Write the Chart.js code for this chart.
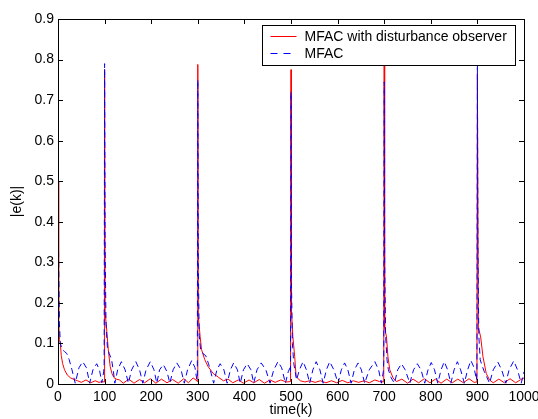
<!DOCTYPE html>
<html>
<head>
<meta charset="utf-8">
<script src="https://cdn.jsdelivr.net/npm/chart.js@4/dist/chart.umd.min.js"></script>
<style>
  body { margin: 0; background: #fff; }
  canvas { display: block; }
</style>
</head>
<body>
<canvas id="chart" width="538" height="419"></canvas>
<script>
// series (k, |e(k)|)
const seriesLabels = ['MFAC with disturbance observer', 'MFAC'];
const seriesColors = ['#ff0000', '#0000ff'];

const redK = [0, 1, 2, 3, 5, 7, 10, 14, 20, 27, 35, 42, 50, 60, 70, 80, 88, 94, 99,
  100, 101, 104, 108, 112, 116, 120, 125, 132, 140, 152, 163, 175, 186, 198, 210, 222, 234, 246, 258, 270, 280, 290, 298, 299,
  300, 301, 305, 308, 315, 322, 333, 345, 355, 365, 375, 387, 398, 410, 420, 432, 443, 455, 466, 478, 490, 499,
  500, 501, 504, 508, 511, 520, 530, 540, 552, 563, 575, 587, 598, 610, 622, 634, 645, 657, 668, 680, 690, 699,
  700, 701, 705, 708, 712, 719, 726, 738, 750, 762, 774, 786, 798, 810, 822, 834, 846, 858, 870, 882, 893, 899,
  900, 902, 907, 912, 919, 926, 934, 946, 958, 970, 982, 992, 1000];
const redE = [0.50, 0.30, 0.16, 0.11, 0.10, 0.07, 0.05, 0.035, 0.022, 0.015, 0.011, 0.008, 0.004, 0.010, 0.003, 0.008, 0.004, 0.006, 0.005,
  0.775, 0.18, 0.14, 0.084, 0.043, 0.025, 0.016, 0.012, 0.010, 0.002, 0.012, 0.002, 0.011, 0.003, 0.013, 0.002, 0.012, 0.003, 0.011, 0.002, 0.013, 0.003, 0.015, 0.008, 0.006,
  0.788, 0.166, 0.117, 0.085, 0.06, 0.043, 0.026, 0.016, 0.008, 0.012, 0.003, 0.010, 0.002, 0.010, 0.003, 0.011, 0.002, 0.010, 0.004, 0.010, 0.005, 0.006,
  0.775, 0.18, 0.117, 0.067, 0.018, 0.008, 0.005, 0.008, 0.004, 0.008, 0.003, 0.008, 0.003, 0.009, 0.003, 0.008, 0.004, 0.008, 0.003, 0.010, 0.006, 0.005,
  0.788, 0.137, 0.116, 0.067, 0.035, 0.015, 0.006, 0.012, 0.002, 0.012, 0.003, 0.013, 0.003, 0.012, 0.002, 0.012, 0.003, 0.012, 0.003, 0.013, 0.004, 0.005,
  0.765, 0.14, 0.116, 0.067, 0.026, 0.010, 0.003, 0.012, 0.003, 0.013, 0.003, 0.010, 0.015];

const blueK = [0, 1, 2, 3, 5, 9, 14, 19, 24, 30, 37, 45, 53, 61, 68, 75, 83, 89, 94, 98, 99,
  100, 101, 103, 106, 110, 115, 119, 122, 128, 136, 144, 151, 158, 167, 175, 182, 189, 198, 206, 212, 218, 226, 234, 240, 247, 255, 264, 271, 278, 287, 294, 298, 299,
  300, 301, 303, 306, 311, 317, 323, 329, 334, 341, 348, 356, 363, 370, 377, 385, 391, 398, 406, 414, 420, 427, 436, 446, 455, 463, 472, 480, 488, 494, 498, 499,
  500, 501, 503, 506, 509, 512, 518, 526, 533, 540, 547, 554, 562, 569, 576, 583, 592, 601, 608, 615, 622, 629, 636, 644, 651, 658, 668, 680, 688, 694, 698, 699,
  700, 701, 703, 706, 709, 715, 722, 729, 737, 745, 755, 763, 771, 779, 787, 794, 801, 808, 815, 822, 829, 836, 843, 850, 857, 864, 872, 879, 886, 893, 898, 899,
  900, 901, 903, 906, 910, 915, 921, 926, 934, 944, 952, 961, 968, 978, 986, 994, 1000];
const blueE = [0.50, 0.35, 0.25, 0.15, 0.10, 0.085, 0.08, 0.075, 0.06, 0.035, 0.002, 0.04, 0.055, 0.04, 0.002, 0.035, 0.05, 0.035, 0.003, 0.03, 0.05,
  0.79, 0.35, 0.15, 0.09, 0.075, 0.06, 0.03, 0.002, 0.035, 0.055, 0.035, 0.002, 0.035, 0.055, 0.035, 0.002, 0.035, 0.055, 0.035, 0.002, 0.035, 0.048, 0.03, 0.002, 0.035, 0.052, 0.035, 0.002, 0.035, 0.058, 0.04, 0.01, 0.02,
  0.75, 0.30, 0.12, 0.085, 0.075, 0.07, 0.05, 0.025, 0.002, 0.035, 0.05, 0.035, 0.002, 0.035, 0.052, 0.035, 0.002, 0.035, 0.05, 0.035, 0.002, 0.035, 0.052, 0.035, 0.002, 0.035, 0.055, 0.04, 0.002, 0.03, 0.04, 0.03,
  0.72, 0.25, 0.10, 0.05, 0.03, 0.01, 0.035, 0.055, 0.035, 0.002, 0.035, 0.055, 0.035, 0.002, 0.035, 0.055, 0.035, 0.002, 0.035, 0.052, 0.035, 0.002, 0.035, 0.052, 0.035, 0.002, 0.035, 0.055, 0.035, 0.002, 0.03, 0.055,
  0.745, 0.30, 0.12, 0.06, 0.035, 0.015, 0.002, 0.035, 0.05, 0.035, 0.002, 0.035, 0.05, 0.035, 0.002, 0.035, 0.053, 0.035, 0.002, 0.035, 0.055, 0.035, 0.002, 0.035, 0.055, 0.035, 0.002, 0.035, 0.058, 0.04, 0.01, 0.03,
  0.79, 0.35, 0.12, 0.06, 0.045, 0.03, 0.015, 0.002, 0.035, 0.054, 0.035, 0.002, 0.035, 0.057, 0.035, 0.002, 0.03];

const FONT = 'Liberation Sans, Arial, sans-serif';
const FONT_SIZE = 14;

function toPoints(ks, es) {
    return ks.map((k, i) => ({ x: k, y: es[i] }));
}

// matlab style box with ticks pointing inward on all four sides
const boxPlugin = {
    id: 'box',
    afterDatasetsDraw(chart) {
        const { ctx, chartArea: a, scales: { x, y } } = chart;
        ctx.save();
        ctx.strokeStyle = '#000';
        ctx.lineWidth = 1;
        ctx.beginPath();
        x.ticks.forEach(t => {
            const px = Math.round(x.getPixelForValue(t.value)) + 0.5;
            ctx.moveTo(px, a.bottom); ctx.lineTo(px, a.bottom - 5);
            ctx.moveTo(px, a.top); ctx.lineTo(px, a.top + 5);
        });
        y.ticks.forEach(t => {
            const py = Math.round(y.getPixelForValue(t.value)) + 0.5;
            ctx.moveTo(a.left, py); ctx.lineTo(a.left + 5, py);
            ctx.moveTo(a.right, py); ctx.lineTo(a.right - 5, py);
        });
        ctx.stroke();
        ctx.strokeRect(Math.round(a.left) + 0.5, Math.round(a.top) + 0.5,
            Math.round(a.right - a.left), Math.round(a.bottom - a.top));
        ctx.restore();
    },
    afterDraw(chart) {
        // legend box in the upper right corner
        const { ctx, chartArea: a } = chart;
        const bx = Math.round(a.right) - 261.5, by = Math.round(a.top) + 6.5, bw = 253, bh = 40;
        ctx.save();
        ctx.fillStyle = '#fff';
        ctx.fillRect(bx, by, bw, bh);
        ctx.strokeStyle = '#000';
        ctx.lineWidth = 1;
        ctx.strokeRect(bx, by, bw, bh);
        ctx.font = FONT_SIZE + 'px ' + FONT;
        ctx.textBaseline = 'middle';
        seriesLabels.forEach((label, i) => {
            const ly = Math.round(by + 10 + i * 17) + 0.5;
            ctx.strokeStyle = seriesColors[i];
            ctx.setLineDash(i === 1 ? [7, 6] : []);
            ctx.beginPath();
            ctx.moveTo(bx + 8, ly);
            ctx.lineTo(bx + 34, ly);
            ctx.stroke();
            ctx.setLineDash([]);
            ctx.fillStyle = '#000';
            ctx.fillText(label, bx + 42, ly + 1);
        });
        ctx.restore();
    }
};

new Chart(document.getElementById('chart').getContext('2d'), {
    type: 'line',
    data: {
        datasets: [{
            label: seriesLabels[0],
            data: toPoints(redK, redE),
            borderColor: seriesColors[0],
            borderWidth: 1,
            pointRadius: 0,
            order: 1
        }, {
            label: seriesLabels[1],
            data: toPoints(blueK, blueE),
            borderColor: seriesColors[1],
            borderWidth: 1,
            borderDash: [6, 4],
            pointRadius: 0,
            order: 0
        }]
    },
    options: {
        responsive: false,
        animation: false,
        devicePixelRatio: 1,
        layout: { padding: { top: 19, right: 14, left: 0, bottom: 0 } },
        plugins: { legend: { display: false }, tooltip: { enabled: false } },
        scales: {
            x: {
                type: 'linear',
                min: 0,
                max: 1000,
                afterFit: s => { s.height = 35; s.paddingRight = 0; s.paddingLeft = 0; },
                ticks: {
                    stepSize: 100, color: '#000', padding: 5, maxRotation: 0,
                    font: { family: FONT, size: FONT_SIZE },
                    callback: v => String(v)
                },
                grid: { display: false, drawTicks: false },
                border: { display: false },
                title: { display: true, text: 'time(k)', color: '#000', padding: { top: 0, bottom: 0 }, font: { family: FONT, size: FONT_SIZE } }
            },
            y: {
                min: 0,
                max: 0.9,
                afterFit: s => { s.width = 58; s.paddingTop = 0; s.paddingBottom = 0; },
                ticks: {
                    stepSize: 0.1, color: '#000', padding: 4, font: { family: FONT, size: FONT_SIZE },
                    callback: v => String(+v.toFixed(1))
                },
                grid: { display: false, drawTicks: false },
                border: { display: false },
                title: { display: true, text: '|e(k)|', color: '#000', padding: { top: 9, bottom: 0 }, font: { family: FONT, size: FONT_SIZE } }
            }
        }
    },
    plugins: [boxPlugin]
});
</script>
</body>
</html>
